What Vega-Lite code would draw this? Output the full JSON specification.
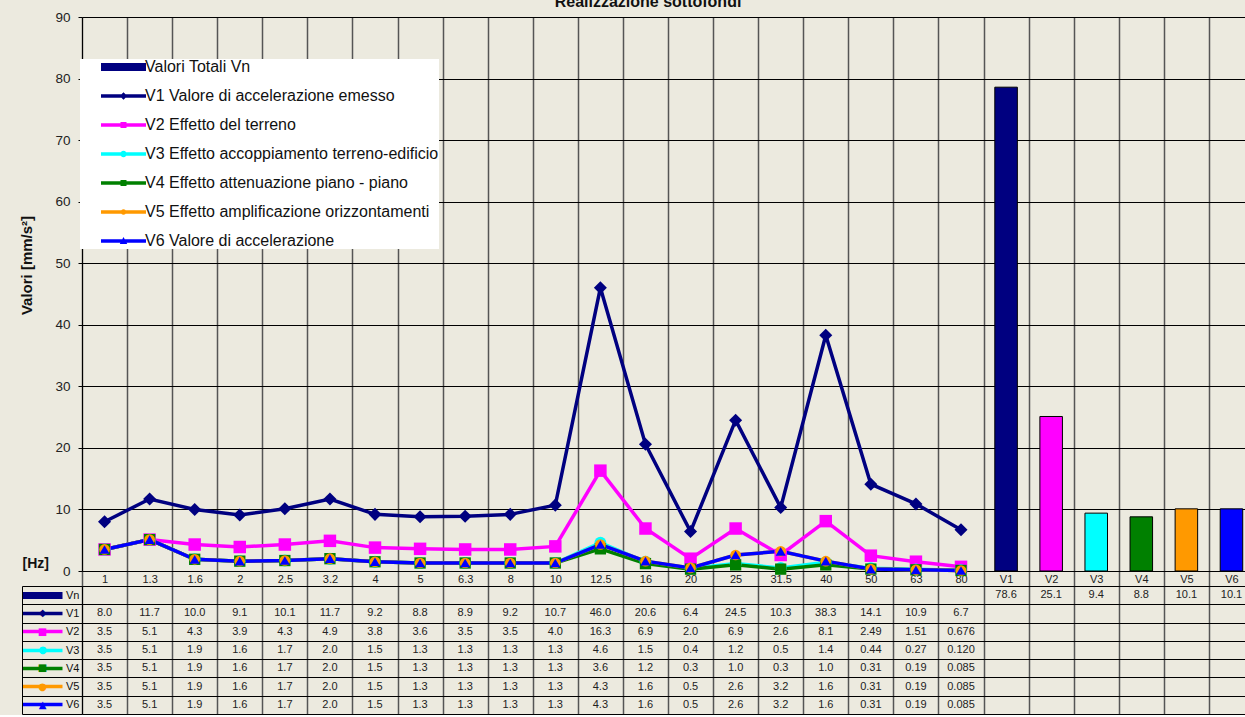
{
  "$schema": "https://vega.github.io/schema/vega-lite/v6.json",
  "background": "#ECEADF",
  "padding": {"left": 18, "top": -6, "right": 0, "bottom": 0},
  "spacing": 15,
  "bounds": "flush",
  "config": {"view": {"stroke": null}, "font": "Liberation Sans"},
  "data": {"values": [
    {"f":"1","s":"V1","v":8.0,"t":"8.0"},{"f":"1.3","s":"V1","v":11.7,"t":"11.7"},{"f":"1.6","s":"V1","v":10.0,"t":"10.0"},{"f":"2","s":"V1","v":9.1,"t":"9.1"},{"f":"2.5","s":"V1","v":10.1,"t":"10.1"},{"f":"3.2","s":"V1","v":11.7,"t":"11.7"},{"f":"4","s":"V1","v":9.2,"t":"9.2"},{"f":"5","s":"V1","v":8.8,"t":"8.8"},{"f":"6.3","s":"V1","v":8.9,"t":"8.9"},{"f":"8","s":"V1","v":9.2,"t":"9.2"},{"f":"10","s":"V1","v":10.7,"t":"10.7"},{"f":"12.5","s":"V1","v":46.0,"t":"46.0"},{"f":"16","s":"V1","v":20.6,"t":"20.6"},{"f":"20","s":"V1","v":6.4,"t":"6.4"},{"f":"25","s":"V1","v":24.5,"t":"24.5"},{"f":"31.5","s":"V1","v":10.3,"t":"10.3"},{"f":"40","s":"V1","v":38.3,"t":"38.3"},{"f":"50","s":"V1","v":14.1,"t":"14.1"},{"f":"63","s":"V1","v":10.9,"t":"10.9"},{"f":"80","s":"V1","v":6.7,"t":"6.7"},
    {"f":"1","s":"V2","v":3.5,"t":"3.5"},{"f":"1.3","s":"V2","v":5.1,"t":"5.1"},{"f":"1.6","s":"V2","v":4.3,"t":"4.3"},{"f":"2","s":"V2","v":3.9,"t":"3.9"},{"f":"2.5","s":"V2","v":4.3,"t":"4.3"},{"f":"3.2","s":"V2","v":4.9,"t":"4.9"},{"f":"4","s":"V2","v":3.8,"t":"3.8"},{"f":"5","s":"V2","v":3.6,"t":"3.6"},{"f":"6.3","s":"V2","v":3.5,"t":"3.5"},{"f":"8","s":"V2","v":3.5,"t":"3.5"},{"f":"10","s":"V2","v":4.0,"t":"4.0"},{"f":"12.5","s":"V2","v":16.3,"t":"16.3"},{"f":"16","s":"V2","v":6.9,"t":"6.9"},{"f":"20","s":"V2","v":2.0,"t":"2.0"},{"f":"25","s":"V2","v":6.9,"t":"6.9"},{"f":"31.5","s":"V2","v":2.6,"t":"2.6"},{"f":"40","s":"V2","v":8.1,"t":"8.1"},{"f":"50","s":"V2","v":2.49,"t":"2.49"},{"f":"63","s":"V2","v":1.51,"t":"1.51"},{"f":"80","s":"V2","v":0.676,"t":"0.676"},
    {"f":"1","s":"V3","v":3.5,"t":"3.5"},{"f":"1.3","s":"V3","v":5.1,"t":"5.1"},{"f":"1.6","s":"V3","v":1.9,"t":"1.9"},{"f":"2","s":"V3","v":1.6,"t":"1.6"},{"f":"2.5","s":"V3","v":1.7,"t":"1.7"},{"f":"3.2","s":"V3","v":2.0,"t":"2.0"},{"f":"4","s":"V3","v":1.5,"t":"1.5"},{"f":"5","s":"V3","v":1.3,"t":"1.3"},{"f":"6.3","s":"V3","v":1.3,"t":"1.3"},{"f":"8","s":"V3","v":1.3,"t":"1.3"},{"f":"10","s":"V3","v":1.3,"t":"1.3"},{"f":"12.5","s":"V3","v":4.6,"t":"4.6"},{"f":"16","s":"V3","v":1.5,"t":"1.5"},{"f":"20","s":"V3","v":0.4,"t":"0.4"},{"f":"25","s":"V3","v":1.2,"t":"1.2"},{"f":"31.5","s":"V3","v":0.5,"t":"0.5"},{"f":"40","s":"V3","v":1.4,"t":"1.4"},{"f":"50","s":"V3","v":0.44,"t":"0.44"},{"f":"63","s":"V3","v":0.27,"t":"0.27"},{"f":"80","s":"V3","v":0.12,"t":"0.120"},
    {"f":"1","s":"V4","v":3.5,"t":"3.5"},{"f":"1.3","s":"V4","v":5.1,"t":"5.1"},{"f":"1.6","s":"V4","v":1.9,"t":"1.9"},{"f":"2","s":"V4","v":1.6,"t":"1.6"},{"f":"2.5","s":"V4","v":1.7,"t":"1.7"},{"f":"3.2","s":"V4","v":2.0,"t":"2.0"},{"f":"4","s":"V4","v":1.5,"t":"1.5"},{"f":"5","s":"V4","v":1.3,"t":"1.3"},{"f":"6.3","s":"V4","v":1.3,"t":"1.3"},{"f":"8","s":"V4","v":1.3,"t":"1.3"},{"f":"10","s":"V4","v":1.3,"t":"1.3"},{"f":"12.5","s":"V4","v":3.6,"t":"3.6"},{"f":"16","s":"V4","v":1.2,"t":"1.2"},{"f":"20","s":"V4","v":0.3,"t":"0.3"},{"f":"25","s":"V4","v":1.0,"t":"1.0"},{"f":"31.5","s":"V4","v":0.3,"t":"0.3"},{"f":"40","s":"V4","v":1.0,"t":"1.0"},{"f":"50","s":"V4","v":0.31,"t":"0.31"},{"f":"63","s":"V4","v":0.19,"t":"0.19"},{"f":"80","s":"V4","v":0.085,"t":"0.085"},
    {"f":"1","s":"V5","v":3.5,"t":"3.5"},{"f":"1.3","s":"V5","v":5.1,"t":"5.1"},{"f":"1.6","s":"V5","v":1.9,"t":"1.9"},{"f":"2","s":"V5","v":1.6,"t":"1.6"},{"f":"2.5","s":"V5","v":1.7,"t":"1.7"},{"f":"3.2","s":"V5","v":2.0,"t":"2.0"},{"f":"4","s":"V5","v":1.5,"t":"1.5"},{"f":"5","s":"V5","v":1.3,"t":"1.3"},{"f":"6.3","s":"V5","v":1.3,"t":"1.3"},{"f":"8","s":"V5","v":1.3,"t":"1.3"},{"f":"10","s":"V5","v":1.3,"t":"1.3"},{"f":"12.5","s":"V5","v":4.3,"t":"4.3"},{"f":"16","s":"V5","v":1.6,"t":"1.6"},{"f":"20","s":"V5","v":0.5,"t":"0.5"},{"f":"25","s":"V5","v":2.6,"t":"2.6"},{"f":"31.5","s":"V5","v":3.2,"t":"3.2"},{"f":"40","s":"V5","v":1.6,"t":"1.6"},{"f":"50","s":"V5","v":0.31,"t":"0.31"},{"f":"63","s":"V5","v":0.19,"t":"0.19"},{"f":"80","s":"V5","v":0.085,"t":"0.085"},
    {"f":"1","s":"V6","v":3.5,"t":"3.5"},{"f":"1.3","s":"V6","v":5.1,"t":"5.1"},{"f":"1.6","s":"V6","v":1.9,"t":"1.9"},{"f":"2","s":"V6","v":1.6,"t":"1.6"},{"f":"2.5","s":"V6","v":1.7,"t":"1.7"},{"f":"3.2","s":"V6","v":2.0,"t":"2.0"},{"f":"4","s":"V6","v":1.5,"t":"1.5"},{"f":"5","s":"V6","v":1.3,"t":"1.3"},{"f":"6.3","s":"V6","v":1.3,"t":"1.3"},{"f":"8","s":"V6","v":1.3,"t":"1.3"},{"f":"10","s":"V6","v":1.3,"t":"1.3"},{"f":"12.5","s":"V6","v":4.3,"t":"4.3"},{"f":"16","s":"V6","v":1.6,"t":"1.6"},{"f":"20","s":"V6","v":0.5,"t":"0.5"},{"f":"25","s":"V6","v":2.6,"t":"2.6"},{"f":"31.5","s":"V6","v":3.2,"t":"3.2"},{"f":"40","s":"V6","v":1.6,"t":"1.6"},{"f":"50","s":"V6","v":0.31,"t":"0.31"},{"f":"63","s":"V6","v":0.19,"t":"0.19"},{"f":"80","s":"V6","v":0.085,"t":"0.085"},
    {"f":"V1","s":"Vn","v":78.6,"t":"78.6"},{"f":"V2","s":"Vn","v":25.1,"t":"25.1"},{"f":"V3","s":"Vn","v":9.4,"t":"9.4"},{"f":"V4","s":"Vn","v":8.8,"t":"8.8"},{"f":"V5","s":"Vn","v":10.1,"t":"10.1"},{"f":"V6","s":"Vn","v":10.1,"t":"10.1"}
  ]},
  "vconcat": [
    {
      "width": 1172,
      "height": 554,
      "title": {"text": "Realizzazione sottofondi", "fontSize": 16, "fontWeight": "bold", "font": "Liberation Sans", "color": "#111", "offset": -13, "baseline": "alphabetic", "dx": -20, "anchor": "middle"},
      "encoding": {
        "x": {"field": "f", "type": "ordinal",
          "scale": {"domain": ["1","1.3","1.6","2","2.5","3.2","4","5","6.3","8","10","12.5","16","20","25","31.5","40","50","63","80","V1","V2","V3","V4","V5","V6"], "paddingInner": 0, "paddingOuter": 0},
          "axis": {"title": "[Hz]", "titleX": -60, "titleY": -4, "titleAlign": "left", "titleBaseline": "alphabetic", "titleFontSize": 14, "titleFontWeight": "bold", "titleColor": "#111",
            "labelAngle": 0, "labelFontSize": 11, "labelColor": "#222", "labelPadding": -13, "labelBaseline": "top",
            "tickBand": "extent", "tickSize": 15, "tickColor": "#555", "tickWidth": 1.5,
            "grid": true, "gridColor": "#555", "gridWidth": 1.5, "domainColor": "black", "domainWidth": 1}},
        "y": {"field": "v", "type": "quantitative",
          "scale": {"domain": [0, 90], "nice": false},
          "axis": {"title": "Valori [mm/s²]", "titleX": -56, "titleY": 248, "titleAngle": -90, "titleAlign": "center", "titleBaseline": "middle", "titleFontSize": 15, "titleFontWeight": "bold", "titleColor": "#111",
            "values": [0,10,20,30,40,50,60,70,80,90], "labelFontSize": 13.5, "labelColor": "#222", "labelPadding": 8,
            "tickSize": 4, "tickColor": "black", "grid": true, "gridColor": "black", "gridWidth": 1, "domainColor": "black"}}
      },
      "layer": [
        {
          "transform": [{"filter": "datum.s === 'Vn'"}],
          "mark": {"type": "bar", "stroke": "black", "strokeWidth": 1, "width": {"band": 0.5}},
          "encoding": {"color": {"field": "f", "type": "nominal",
            "scale": {"domain": ["Vn","V1","V2","V3","V4","V5","V6"], "range": ["#000080","#000080","#FF00FF","#00FFFF","#008000","#FF9900","#0000FF"]}}}
        },
        {
          "transform": [{"filter": "datum.s !== 'Vn'"}],
          "mark": {"type": "line", "strokeWidth": 3.5},
          "encoding": {
            "order": {"value": null},
            "color": {"field": "s", "type": "nominal",
              "scale": {"domain": ["Vn","V1","V2","V3","V4","V5","V6"], "range": ["#000080","#000080","#FF00FF","#00FFFF","#008000","#FF9900","#0000FF"]},
              "legend": {"title": null, "orient": "none", "legendX": -2, "legendY": 42,
                "fillColor": "white", "padding": 0, "symbolOffset": 18, "labelOffset": 31, "rowPadding": 13,
                "symbolSize": 100, "symbolStrokeWidth": 0,
                "symbolType": {"expr": "['M-1,-0.8H8V0.8H-1Z','M-1,-0.35H8V0.35H-1ZM3.5,-0.75L4.25,0L3.5,0.75L2.75,0Z','M-1,-0.35H8V0.35H-1ZM2.9,-0.6H4.1V0.6H2.9Z','M-1,-0.35H8V0.35H-1ZM2.85,0A0.65,0.65,0,1,1,4.15,0A0.65,0.65,0,1,1,2.85,0Z','M-1,-0.35H8V0.35H-1ZM2.9,-0.6H4.1V0.6H2.9Z','M-1,-0.35H8V0.35H-1ZM2.95,0A0.55,0.55,0,1,1,4.05,0A0.55,0.55,0,1,1,2.95,0Z','M-1,-0.35H8V0.35H-1ZM3.5,-0.8L4.25,0.6H2.75Z'][indexof(['Vn','V1','V2','V3','V4','V5','V6'], datum.value)]"},
                "symbolFillColor": {"expr": "['#000080','#000080','#FF00FF','#00FFFF','#008000','#FF9900','#0000FF'][indexof(['Vn','V1','V2','V3','V4','V5','V6'], datum.value)]"},
                "labelFontSize": 16, "labelFont": "Liberation Sans", "labelColor": "#111", "labelLimit": 500,
                "labelExpr": "['Valori Totali Vn','V1 Valore di accelerazione emesso','V2 Effetto del terreno','V3 Effetto accoppiamento terreno-edificio','V4 Effetto attenuazione piano - piano','V5 Effetto amplificazione orizzontamenti','V6 Valore di accelerazione'][indexof(['Vn','V1','V2','V3','V4','V5','V6'], datum.value)] + '\u00a0\u00a0\u00a0\u00a0'"}}
          }
        },
        {
          "transform": [{"filter": "datum.s !== 'Vn'"}],
          "mark": {"type": "point", "filled": true, "opacity": 1},
          "encoding": {
            "color": {"field": "s", "type": "nominal"},
            "shape": {"field": "s", "type": "nominal", "legend": null,
              "scale": {"domain": ["V1","V2","V3","V4","V5","V6"], "range": ["diamond","square","circle","square","circle","triangle-up"]}},
            "size": {"field": "s", "type": "nominal", "legend": null,
              "scale": {"domain": ["V1","V2","V3","V4","V5","V6"], "range": [170, 100, 135, 80, 55, 100]}}
          }
        }
      ]
    },
    {
      "width": 1172,
      "height": 128,
      "layer": [
        {
          "mark": {"type": "text", "fontSize": 11, "font": "Liberation Sans", "color": "#222"},
          "encoding": {
            "x": {"field": "f", "type": "ordinal",
              "scale": {"domain": ["1","1.3","1.6","2","2.5","3.2","4","5","6.3","8","10","12.5","16","20","25","31.5","40","50","63","80","V1","V2","V3","V4","V5","V6"], "paddingInner": 0, "paddingOuter": 0},
              "axis": {"orient": "top", "title": null, "labels": false, "ticks": false, "domain": false, "grid": true, "tickBand": "extent", "gridColor": "#555", "gridWidth": 1.5}},
            "y": {"field": "s", "type": "ordinal",
              "scale": {"domain": ["Vn","V1","V2","V3","V4","V5","V6"], "paddingInner": 0, "paddingOuter": 0},
              "axis": {"orient": "left", "title": null, "labelFontSize": 11, "labelColor": "#111", "labelPadding": -57, "labelAlign": "right",
                "tickBand": "extent", "tickSize": 60, "tickColor": "black", "tickWidth": 1,
                "grid": true, "gridColor": "black", "gridWidth": 1, "domainColor": "black"}},
            "text": {"field": "t"}
          }
        },
        {
          "mark": {"type": "text", "opacity": 0},
          "encoding": {
            "y": {"field": "s", "type": "ordinal",
              "axis": {"orient": "left", "offset": 60, "title": null, "grid": false, "domainColor": "black", "domainWidth": 1,
                "tickSize": -40, "labelAlign": "center", "labelPadding": 20, "labelFontSize": 10, "labelFont": "DejaVu Sans",
                "labelExpr": "['','◆','■','●','■','●','▲'][indexof(['Vn','V1','V2','V3','V4','V5','V6'], datum.value)]",
                "tickColor": {"expr": "['#000080','#000080','#FF00FF','#00FFFF','#008000','#FF9900','#0000FF'][indexof(['Vn','V1','V2','V3','V4','V5','V6'], datum.value)]"},
                "tickWidth": {"expr": "datum.value === 'Vn' ? 7 : 3.5"},
                "labelColor": {"expr": "['#000080','#000080','#FF00FF','#00FFFF','#008000','#FF9900','#0000FF'][indexof(['Vn','V1','V2','V3','V4','V5','V6'], datum.value)]"}}}
          }
        }
      ],
      "resolve": {"axis": {"y": "independent"}}
    }
  ]
}
